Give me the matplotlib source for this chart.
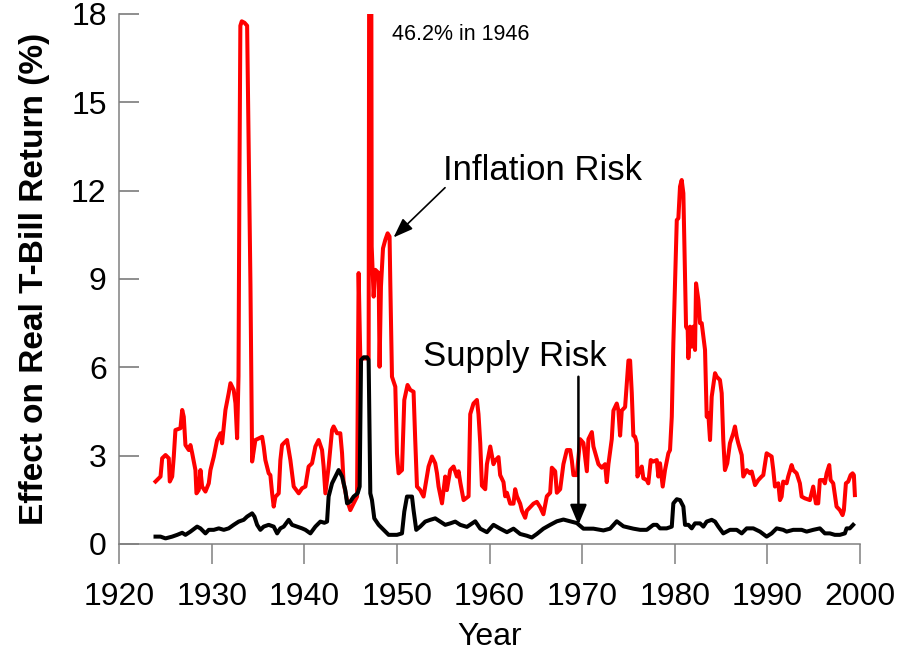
import matplotlib
matplotlib.use("Agg")
import matplotlib.pyplot as plt

plt.rcParams["font.family"] = ["Liberation Sans", "DejaVu Sans"]

# Inflation risk (red)
inflation_year = [
    1923.94, 1924.48, 1924.66, 1925.02, 1925.37, 1925.48, 1925.74, 1925.91, 1926.09, 1926.63,
    1926.82, 1926.99, 1927.17, 1927.53, 1927.71, 1927.90, 1928.25, 1928.36, 1928.61, 1928.79,
    1928.97, 1929.33, 1929.69, 1929.87, 1930.23, 1930.59, 1930.95, 1931.13, 1931.31, 1931.49,
    1931.84, 1932.03, 1932.38, 1932.57, 1932.75, 1932.90, 1933.00, 1933.10, 1933.25, 1933.55,
    1933.83, 1934.00, 1934.19, 1934.37, 1934.72, 1935.45, 1935.62, 1935.80, 1936.16, 1936.34,
    1936.53, 1936.70, 1936.88, 1937.24, 1937.42, 1937.60, 1937.78, 1938.14, 1938.32, 1938.50,
    1938.68, 1938.86, 1939.40, 1939.76, 1940.12, 1940.47, 1940.84, 1941.20, 1941.55, 1941.92,
    1942.09, 1942.28, 1942.63, 1943.00, 1943.17, 1943.54, 1943.89, 1944.08, 1944.25, 1944.62,
    1944.97, 1945.33, 1945.70, 1945.87, 1946.05, 1946.95, 1947.12, 1947.28, 1947.49, 1947.67,
    1948.03, 1948.13, 1948.28, 1948.50, 1948.75, 1949.00, 1949.21, 1949.29, 1949.47, 1949.83,
    1950.01, 1950.18, 1950.55, 1950.80, 1951.15, 1951.45, 1951.80, 1951.98, 1952.17, 1952.52,
    1952.88, 1953.42, 1953.79, 1954.14, 1954.33, 1954.50, 1954.87, 1955.22, 1955.40, 1955.76,
    1956.12, 1956.48, 1956.66, 1956.84, 1957.20, 1957.74, 1957.92, 1958.27, 1958.64, 1958.81,
    1959.00, 1959.18, 1959.54, 1959.72, 1960.08, 1960.43, 1960.61, 1960.97, 1961.15, 1961.51,
    1961.69, 1961.88, 1962.23, 1962.59, 1962.77, 1962.96, 1963.31, 1963.50, 1963.85, 1964.03,
    1964.39, 1964.75, 1965.11, 1965.47, 1965.82, 1966.19, 1966.55, 1966.73, 1967.09, 1967.27,
    1967.63, 1967.98, 1968.35, 1968.71, 1968.89, 1969.06, 1969.43, 1969.78, 1970.14, 1970.51,
    1970.68, 1971.05, 1971.22, 1971.76, 1972.12, 1972.48, 1972.66, 1972.84, 1973.20, 1973.38,
    1973.74, 1973.92, 1974.10, 1974.28, 1974.64, 1975.00, 1975.18, 1975.36, 1975.53, 1975.72,
    1975.90, 1975.97, 1976.26, 1976.44, 1976.61, 1976.98, 1977.15, 1977.41, 1977.69, 1978.06,
    1978.23, 1978.41, 1978.70, 1978.95, 1979.31, 1979.49, 1979.68, 1979.85, 1980.03, 1980.22,
    1980.39, 1980.57, 1980.75, 1980.93, 1981.11, 1981.22, 1981.40, 1981.47, 1981.65, 1981.83,
    1982.01, 1982.19, 1982.30, 1982.55, 1982.73, 1982.91, 1983.09, 1983.27, 1983.45, 1983.62,
    1983.81, 1983.99, 1984.35, 1984.53, 1984.88, 1985.07, 1985.24, 1985.42, 1985.67, 1985.96,
    1986.32, 1986.50, 1986.69, 1986.86, 1987.23, 1987.40, 1987.77, 1988.12, 1988.31, 1988.67,
    1989.02, 1989.38, 1989.56, 1989.92, 1990.46, 1990.64, 1990.82, 1991.18, 1991.36, 1991.54,
    1991.71, 1992.08, 1992.25, 1992.62, 1992.79, 1993.16, 1993.51, 1993.70, 1994.05, 1994.59,
    1994.95, 1995.24, 1995.49, 1995.67, 1996.03, 1996.21, 1996.40, 1996.68, 1996.83, 1997.11,
    1997.47, 1997.83, 1998.12, 1998.26, 1998.48, 1998.73, 1998.99, 1999.20, 1999.34, 1999.45,
]
inflation_val = [
    2.12, 2.29, 2.91, 3.02, 2.91, 2.12, 2.29, 2.96, 3.87, 3.93,
    4.55, 4.32, 3.36, 3.19, 3.36, 3.08, 2.51, 1.72, 1.83, 2.51,
    1.95, 1.78, 2.06, 2.51, 2.96, 3.53, 3.76, 3.42, 3.99, 4.55,
    5.12, 5.46, 5.23, 4.78, 3.59, 5.70, 12.40, 17.60, 17.75, 17.70,
    17.60, 13.40, 8.80, 2.80, 3.53, 3.64, 3.31, 2.85, 2.40, 2.34,
    1.72, 1.27, 1.60, 1.72, 2.85, 3.36, 3.42, 3.53, 3.19, 2.85,
    2.40, 1.95, 1.72, 1.89, 1.95, 2.63, 2.74, 3.31, 3.53, 3.19,
    2.63, 1.72, 2.63, 3.87, 3.99, 3.76, 3.76, 3.08, 2.06, 1.49,
    1.15, 1.38, 1.61, 9.20, 6.30, 6.30, 46.20, 10.10, 8.40, 9.31,
    9.20, 6.02, 8.74, 10.04, 10.33, 10.55, 10.44, 8.85, 5.68, 5.34,
    3.08, 2.40, 2.51, 4.89, 5.40, 5.23, 5.17, 3.53, 1.95, 1.83,
    1.61, 2.63, 2.97, 2.74, 2.40, 1.95, 1.38, 2.29, 1.83, 2.51,
    2.63, 2.29, 2.47, 2.10, 1.49, 1.62, 4.41, 4.77, 4.89, 4.41,
    3.43, 1.98, 1.86, 2.71, 3.31, 2.71, 2.83, 2.95, 2.34, 2.10,
    1.62, 1.74, 1.37, 1.37, 1.86, 1.62, 1.37, 1.13, 0.89, 1.13,
    1.25, 1.37, 1.43, 1.25, 1.01, 1.62, 1.74, 2.59, 2.47, 1.74,
    1.86, 2.71, 3.19, 3.19, 2.83, 2.34, 2.34, 3.56, 3.43, 2.47,
    3.56, 3.80, 3.31, 2.71, 2.59, 2.71, 2.10, 2.71, 3.56, 4.53,
    4.77, 4.53, 3.68, 4.53, 4.65, 6.23, 6.23, 5.13, 3.68, 3.64,
    3.42, 2.29, 2.51, 2.63, 2.23, 2.17, 2.06, 2.85, 2.80, 2.85,
    2.29, 2.74, 1.95, 2.51, 3.08, 3.19, 4.32, 6.82, 8.85, 11.00,
    11.06, 12.14, 12.36, 11.91, 9.08, 7.38, 7.27, 6.31, 7.38, 6.70,
    7.38, 6.59, 8.85, 8.29, 7.50, 7.50, 7.04, 6.59, 4.32, 4.44,
    3.53, 5.00, 5.80, 5.68, 5.57, 5.12, 3.53, 2.51, 2.74, 3.42,
    3.76, 3.99, 3.64, 3.42, 3.02, 2.29, 2.51, 2.40, 2.46, 2.00,
    2.17, 2.29, 2.34, 3.08, 2.97, 2.51, 1.95, 2.06, 1.49, 1.61,
    2.12, 2.06, 2.29, 2.68, 2.51, 2.40, 2.06, 1.61, 1.55, 1.49,
    1.95, 1.38, 1.38, 2.17, 2.17, 2.06, 2.40, 2.68, 2.17, 2.06,
    1.27, 1.15, 0.98, 1.15, 2.06, 2.12, 2.34, 2.40, 2.34, 1.66,
]

# Supply risk (black)
supply_year = [
    1923.94, 1924.48, 1925.02, 1925.74, 1926.28, 1926.82, 1927.17, 1927.71, 1928.43, 1928.79,
    1929.33, 1929.69, 1930.23, 1930.77, 1931.31, 1931.84, 1932.38, 1932.92, 1933.46, 1933.83,
    1934.37, 1934.62, 1934.91, 1935.26, 1935.62, 1936.16, 1936.70, 1937.07, 1937.42, 1937.78,
    1938.32, 1938.68, 1939.22, 1939.76, 1940.12, 1940.66, 1941.20, 1941.74, 1942.17, 1942.46,
    1942.63, 1943.00, 1943.36, 1943.71, 1944.08, 1944.43, 1944.62, 1944.97, 1945.33, 1945.76,
    1945.98, 1946.13, 1946.41, 1946.77, 1946.95, 1947.13, 1947.31, 1947.56, 1948.03, 1948.57,
    1949.11, 1950.01, 1950.55, 1950.80, 1951.09, 1951.63, 1951.80, 1952.09, 1952.52, 1953.06,
    1953.60, 1954.14, 1954.68, 1955.22, 1955.76, 1956.30, 1956.84, 1957.56, 1958.46, 1959.00,
    1959.72, 1960.43, 1961.15, 1961.88, 1962.59, 1963.31, 1964.03, 1964.57, 1965.11, 1965.82,
    1966.55, 1967.27, 1967.98, 1968.71, 1969.43, 1970.14, 1971.22, 1972.30, 1973.02, 1973.74,
    1974.46, 1975.53, 1976.26, 1976.98, 1977.69, 1978.06, 1978.41, 1979.13, 1979.68, 1979.85,
    1980.22, 1980.57, 1980.93, 1981.11, 1981.47, 1981.83, 1982.19, 1982.73, 1983.09, 1983.45,
    1983.99, 1984.35, 1984.70, 1985.24, 1985.96, 1986.69, 1987.23, 1987.77, 1988.48, 1989.20,
    1989.92, 1990.46, 1991.00, 1991.71, 1992.08, 1992.79, 1993.70, 1994.24, 1994.95, 1995.67,
    1996.21, 1996.75, 1997.28, 1997.83, 1998.37, 1998.55, 1998.90, 1999.26,
]
supply_val = [
    0.25, 0.25, 0.19, 0.25, 0.31, 0.38, 0.31, 0.42, 0.59, 0.53,
    0.36, 0.48, 0.48, 0.53, 0.48, 0.53, 0.65, 0.76, 0.82, 0.93,
    1.04, 0.93, 0.65, 0.48, 0.59, 0.65, 0.59, 0.36, 0.53, 0.59,
    0.82, 0.65, 0.59, 0.53, 0.48, 0.36, 0.59, 0.76, 0.72, 0.76,
    1.61, 2.06, 2.29, 2.51, 2.29, 1.83, 1.38, 1.44, 1.61, 1.72,
    1.95, 6.25, 6.34, 6.34, 6.25, 1.72, 1.49, 0.87, 0.65, 0.48,
    0.31, 0.31, 0.36, 1.10, 1.61, 1.61, 1.15, 0.48, 0.59, 0.76,
    0.82, 0.87, 0.76, 0.65, 0.70, 0.76, 0.65, 0.58, 0.77, 0.52,
    0.40, 0.65, 0.52, 0.40, 0.52, 0.34, 0.28, 0.22, 0.34, 0.52,
    0.65, 0.77, 0.83, 0.77, 0.71, 0.52, 0.52, 0.46, 0.52, 0.77,
    0.60, 0.52, 0.48, 0.48, 0.65, 0.65, 0.53, 0.53, 0.59, 1.38,
    1.52, 1.49, 1.27, 0.65, 0.65, 0.53, 0.70, 0.70, 0.59, 0.76,
    0.82, 0.76, 0.59, 0.36, 0.48, 0.48, 0.36, 0.53, 0.53, 0.42,
    0.25, 0.36, 0.53, 0.48, 0.42, 0.48, 0.48, 0.42, 0.48, 0.53,
    0.36, 0.36, 0.31, 0.31, 0.36, 0.53, 0.53, 0.65,
]

year_ticks = [1920, 1930, 1940, 1950, 1960, 1970, 1980, 1990, 2000]
value_ticks = [0, 3, 6, 9, 12, 15, 18]

fig = plt.figure(figsize=(8.99, 6.55), dpi=100)
ax = fig.add_axes([0.1324, 0.1695, 0.8242, 0.8092])

ax.plot(inflation_year, inflation_val, color="#ff0000", linewidth=2.9)
ax.plot(supply_year, supply_val, color="black", linewidth=2.9)

ax.set_xlim(1920, 2000)
ax.set_ylim(0, 18)
ax.set_xticks(year_ticks)
ax.set_yticks(value_ticks)

for side in ["top", "right"]:
    ax.spines[side].set_visible(False)
for side in ["left", "bottom"]:
    ax.spines[side].set_color("#808080")
    ax.spines[side].set_linewidth(1.1)

ax.tick_params(axis="y", direction="in", length=14.4, width=1.1, color="#707070",
               labelsize=23, pad=8.9)
ax.tick_params(axis="x", direction="out", length=14.4, width=1.1, color="#808080",
               labelsize=23, pad=13)

ax.set_xlabel("Year", fontsize=23, labelpad=7)
ax.set_ylabel("Effect on Real T-Bill Return (%)", fontsize=24, fontweight="bold",
              labelpad=15)

# annotations
ax.text(1949.5, 17.3, "46.2% in 1946", fontsize=15.5, va="center", ha="left")
ax.text(1955.0, 12.7, "Inflation Risk", fontsize=25, va="center", ha="left")
ax.text(1952.85, 6.35, "Supply Risk", fontsize=25, va="center", ha="left")

ax.annotate("", xy=(1949.64, 10.41), xytext=(1955.2, 12.1),
            arrowprops=dict(arrowstyle="-|>,head_length=0.6,head_width=0.22",
                            color="black", lw=1.2, mutation_scale=20,
                            shrinkA=0, shrinkB=0))
ax.annotate("", xy=(1969.6, 0.65), xytext=(1969.6, 5.68),
            arrowprops=dict(arrowstyle="-|>,head_length=0.6,head_width=0.25",
                            color="black", lw=1.8, mutation_scale=20,
                            shrinkA=0, shrinkB=0))

plt.savefig("out.png", dpi=100)
plt.close()
